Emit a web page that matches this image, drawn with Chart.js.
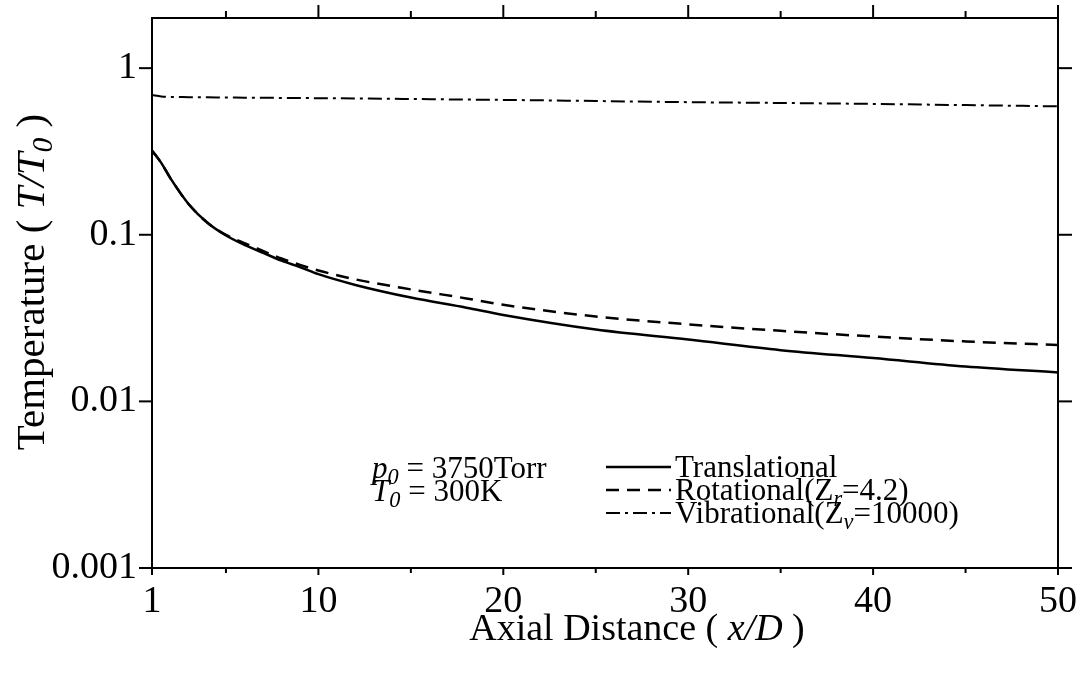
<!DOCTYPE html>
<html>
<head>
<meta charset="utf-8">
<script src="https://cdn.jsdelivr.net/npm/chart.js@4.4.1/dist/chart.umd.min.js"></script>
<style>
  html, body { margin: 0; padding: 0; background: #fff; }
</style>
</head>
<body>
<canvas id="chart" width="1085" height="673"></canvas>
<script>
// values (T/T0 vs x/D)
const distance = [1, 1.5, 2, 3, 4, 5, 6, 7, 8, 9, 10, 12, 15, 18, 20, 25, 30, 35, 40, 45, 50];
const translational = [0.32, 0.27, 0.218, 0.152, 0.118, 0.099, 0.087, 0.078, 0.070, 0.064, 0.058, 0.050, 0.042, 0.0365, 0.033, 0.027, 0.0235, 0.0203, 0.0182, 0.0162, 0.0149];
const rotational = [0.32, 0.27, 0.218, 0.152, 0.118, 0.100, 0.089, 0.080, 0.072, 0.066, 0.061, 0.054, 0.047, 0.0415, 0.038, 0.0323, 0.029, 0.0265, 0.0245, 0.0229, 0.0218];
const vibrational = [0.69, 0.676, 0.672, 0.670, 0.668, 0.667, 0.665, 0.664, 0.663, 0.662, 0.660, 0.658, 0.653, 0.648, 0.645, 0.635, 0.625, 0.618, 0.610, 0.600, 0.590];

const xTicks = [1, 5, 10, 15, 20, 25, 30, 35, 40, 45, 50];
const xMajor = [1, 10, 20, 30, 40, 50];
const yTicks = [0.001, 0.01, 0.1, 1];
const yLabels = ['0.001', '0.01', '0.1', '1'];

const FONT = '"Liberation Serif", "Times New Roman", serif';

function toPoints(ys) {
    return distance.map((d, i) => ({ x: d, y: ys[i] }));
}

// draws text made of parts like {t, italic, sub}
function richText(ctx, parts, x, y, size, align) {
    const fontFor = p => (p.italic ? 'italic ' : '') + (p.sub ? size * 0.72 : size) + 'px ' + FONT;
    let w = 0;
    parts.forEach(p => { ctx.font = fontFor(p); w += ctx.measureText(p.t).width; });
    let cx = align === 'center' ? x - w / 2 : x;
    parts.forEach(p => {
        ctx.font = fontFor(p);
        ctx.fillText(p.t, cx, y + (p.sub ? size * 0.2 : 0));
        cx += ctx.measureText(p.t).width;
    });
}

const framePlugin = {
    id: 'frame',
    afterDraw(chart) {
        const { ctx, chartArea: a, scales: { x, y } } = chart;
        ctx.save();
        ctx.strokeStyle = '#000';
        ctx.fillStyle = '#000';
        ctx.lineWidth = 2;
        ctx.setLineDash([]);
        ctx.strokeRect(a.left, a.top, a.right - a.left, a.bottom - a.top);

        const line = (x1, y1, x2, y2) => {
            ctx.beginPath(); ctx.moveTo(x1, y1); ctx.lineTo(x2, y2); ctx.stroke();
        };

        // x ticks, bottom and top
        xTicks.forEach(v => {
            const px = x.getPixelForValue(v);
            const major = xMajor.includes(v);
            line(px, a.bottom, px, a.bottom + (major ? 7 : 5));
            if (v !== 1) line(px, a.top, px, a.top - (major ? 13 : 7));
        });
        // y ticks, left and right
        yTicks.forEach(v => {
            const py = y.getPixelForValue(v);
            line(a.left - 13, py, a.left, py);
            line(a.right, py, a.right + 14, py);
        });

        // axis titles
        ctx.textAlign = 'left';
        ctx.textBaseline = 'alphabetic';
        richText(ctx, [
            { t: 'Axial Distance ( ' },
            { t: 'x/D', italic: true },
            { t: ' )' }
        ], 637, 640, 38, 'center');

        ctx.save();
        ctx.translate(0, 282);
        ctx.rotate(-Math.PI / 2);
        richText(ctx, [
            { t: 'Temperature ( ' },
            { t: 'T/T', italic: true },
            { t: '0', italic: true, sub: true },
            { t: ' )' }
        ], 0, 44, 41, 'center');
        ctx.restore();

        // conditions
        richText(ctx, [
            { t: 'p', italic: true }, { t: '0', italic: true, sub: true }, { t: ' = 3750Torr' }
        ], 372, 478, 31, 'left');
        richText(ctx, [
            { t: 'T', italic: true }, { t: '0', italic: true, sub: true }, { t: ' = 300K' }
        ], 372, 501, 31, 'left');

        // legend
        const rows = [
            { ds: 0, parts: [{ t: 'Translational' }] },
            { ds: 1, parts: [{ t: 'Rotational(Z' }, { t: 'r', italic: true, sub: true }, { t: '=4.2)' }] },
            { ds: 2, parts: [{ t: 'Vibrational(Z' }, { t: 'v', italic: true, sub: true }, { t: '=10000)' }] }
        ];
        rows.forEach((r, i) => {
            const ds = chart.data.datasets[r.ds];
            const ly = 467 + i * 23;
            ctx.lineWidth = ds.borderWidth;
            ctx.setLineDash(ds.borderDash || []);
            line(606, ly, 671, ly);
            ctx.setLineDash([]);
            richText(ctx, r.parts, 675, ly + 10, 31, 'left');
        });
        ctx.restore();
    }
};

new Chart(document.getElementById('chart'), {
    type: 'line',
    data: {
        datasets: [
            { label: 'Translational', data: toPoints(translational), borderColor: '#000', borderWidth: 2.5, pointRadius: 0, cubicInterpolationMode: 'monotone' },
            { label: 'Rotational', data: toPoints(rotational), borderColor: '#000', borderWidth: 2.5, borderDash: [13, 8], pointRadius: 0, cubicInterpolationMode: 'monotone' },
            { label: 'Vibrational', data: toPoints(vibrational), borderColor: '#000', borderWidth: 2, borderDash: [14, 5, 3, 5], pointRadius: 0, cubicInterpolationMode: 'monotone' }
        ]
    },
    options: {
        responsive: false,
        devicePixelRatio: 1,
        animation: false,
        layout: { padding: { top: 18, right: 27, left: 0, bottom: 0 } },
        plugins: { legend: { display: false }, tooltip: { enabled: false } },
        scales: {
            x: {
                type: 'linear',
                min: 1,
                max: 50,
                afterBuildTicks: s => { s.ticks = xTicks.map(v => ({ value: v })); },
                afterFit: s => { s.height = 105; s.paddingLeft = 0; s.paddingRight = 0; },
                grid: { display: false, drawTicks: true, tickLength: 7 },
                border: { display: false },
                ticks: {
                    autoSkip: false,
                    maxRotation: 0,
                    padding: 4,
                    color: '#000',
                    font: { family: FONT, size: 38 },
                    callback: v => xMajor.includes(v) ? String(v) : ''
                }
            },
            y: {
                type: 'logarithmic',
                min: 0.001,
                max: 2,
                afterBuildTicks: s => { s.ticks = yTicks.map(v => ({ value: v })); },
                afterFit: s => { s.width = 152; s.paddingTop = 0; s.paddingBottom = 0; },
                grid: { display: false, drawTicks: true, tickLength: 13 },
                border: { display: false },
                ticks: {
                    padding: 2,
                    color: '#000',
                    font: { family: FONT, size: 38 },
                    callback: (v, i) => yLabels[yTicks.indexOf(v)] ?? ''
                }
            }
        }
    },
    plugins: [framePlugin]
});
</script>
</body>
</html>
